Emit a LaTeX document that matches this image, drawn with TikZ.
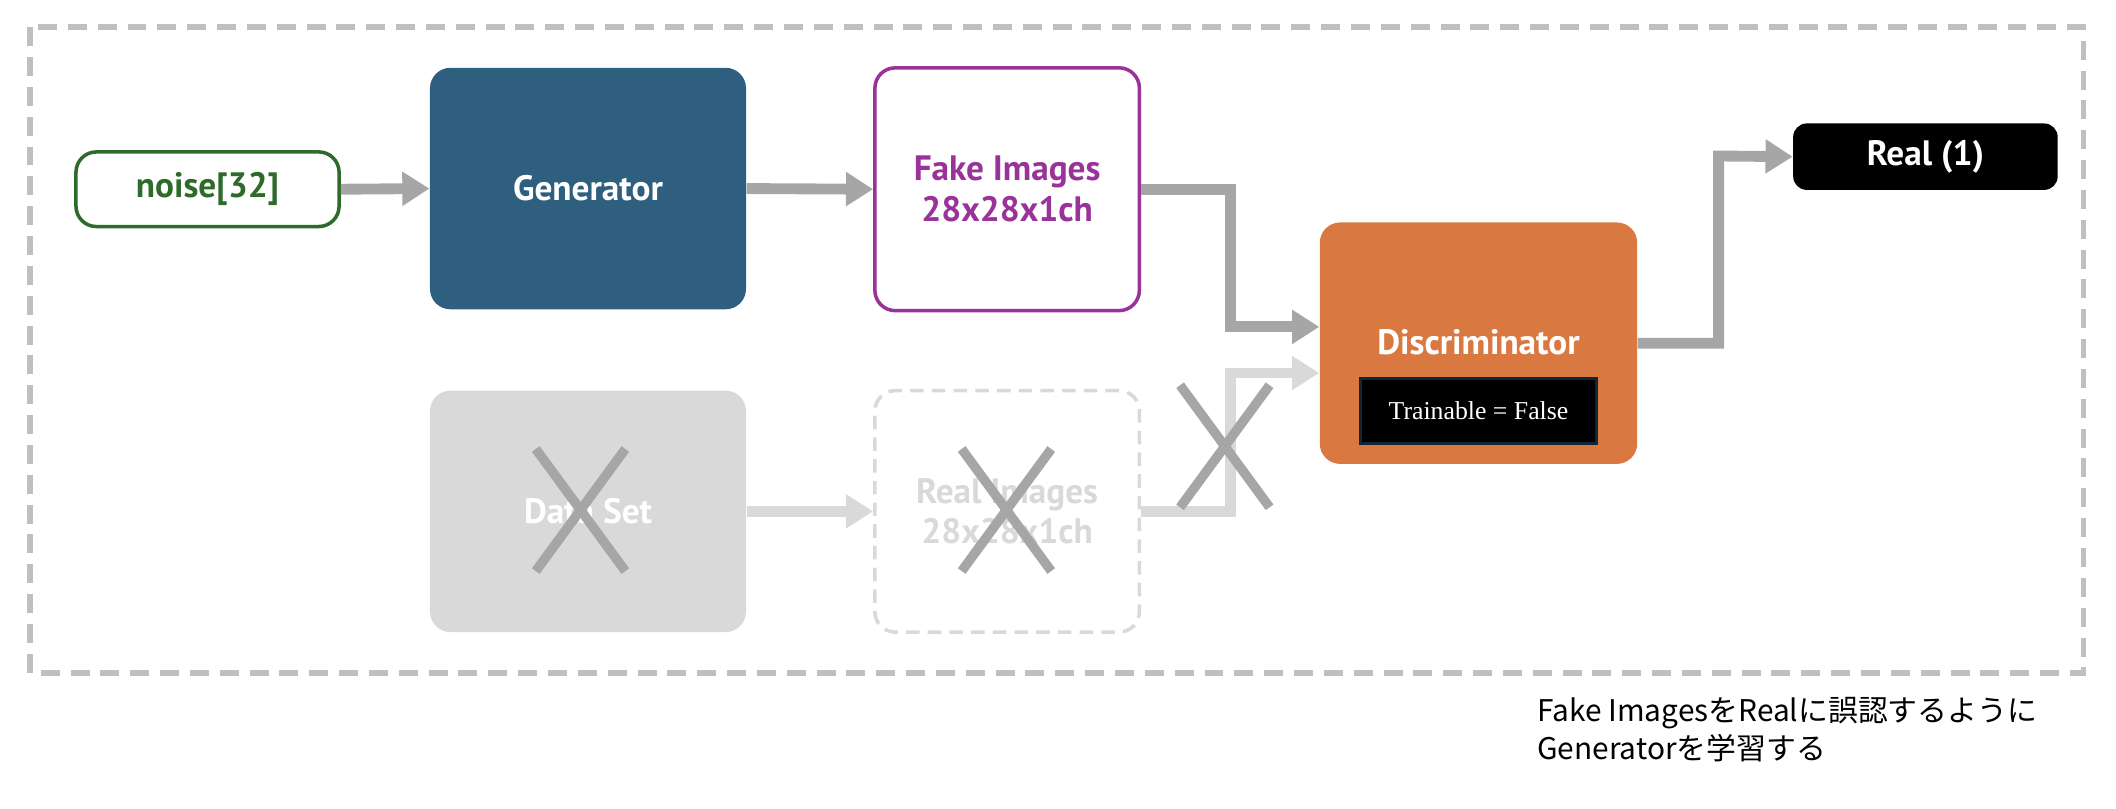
\documentclass[tikz,border=0pt]{standalone}
\usepackage{fontspec}
\setmainfont{PT Sans}
\newfontfamily\cjk{Noto Sans CJK JP}
\newfontfamily\serifx{Liberation Serif}
\usetikzlibrary{arrows.meta}
\definecolor{gen}{HTML}{2E5F7F}
\definecolor{fake}{HTML}{993399}
\definecolor{nz}{HTML}{2E6B2A}
\definecolor{disc}{HTML}{D97941}
\definecolor{arr}{HTML}{A6A6A6}
\definecolor{lg}{HTML}{D9D9D9}
\definecolor{bord}{HTML}{BFBFBF}
\begin{document}
\begin{tikzpicture}[x=0.5pt,y=-0.5pt,
  box/.style={rounded corners=7.5pt,align=center,font=\bfseries\fontsize{13}{15}\selectfont,inner sep=0pt},
  conn/.style={draw=arr,line width=4pt,line join=miter,-{Triangle[length=10pt,width=12pt]}},
  lconn/.style={conn,draw=lg},
  cross/.style={draw=arr,line width=3.5pt}]
\useasboundingbox (0,0) rectangle (1560,596);
\draw[bord,line width=2pt,dash pattern=on 7pt off 4pt] (22,20) rectangle (1536,496);
\node[box,draw=nz,line width=1.3pt,text=nz,minimum width=97pt,minimum height=27.5pt] (noise) at (153,139.5) {noise[32]};
\node[box,fill=gen,text=white,minimum width=116.5pt,minimum height=89pt] (gen) at (433.5,139) {Generator};
\node[box,draw=fake,line width=1.3pt,text=fake,minimum width=97.5pt,minimum height=89.5pt] (fake) at (742.5,139.5) {Fake Images\\28x28x1ch};
\node[box,fill=lg,text=white,minimum width=116.5pt,minimum height=89pt] (data) at (433.5,377) {Data Set};
\node[box,draw=lg,line width=1.3pt,dash pattern=on 5pt off 3pt,text=lg,minimum width=97.5pt,minimum height=89pt] (real) at (742.5,377) {Real Images\\28x28x1ch};
\node[box,fill=disc,minimum width=117pt,minimum height=89pt] (disc) at (1090,253) {};
\node[box,text=white] (dlabel) at (1090,252) {Discriminator};
\node[fill=black,draw=gen!40!black,line width=1pt,text=white,minimum width=87pt,minimum height=24pt,inner sep=0pt,font=\serifx\fontsize{9.5}{11}\selectfont] (train) at (1090,303) {Trainable = False};
\node[box,fill=black,text=white,rounded corners=5pt,minimum width=97.5pt,minimum height=24.5pt] (real1) at (1419.5,115.5) {Real (1)};
\coordinate (f1) at (907,241);
\coordinate (r1) at (907,275);
\coordinate (o1) at (1267,115);
\draw[conn] (noise.east) -- (gen.west);
\draw[conn] (gen.east) -- (fake.west);
\draw[conn] (fake.east) -| (f1) -- (f1 -| disc.west);
\draw[lconn] (data.east) -- (real.west);
\draw[lconn] (real.east) -| (r1) -- (r1 -| disc.west);
\draw[conn] (disc.east) -| (o1) -- (real1.west);
\coordinate (x1) at (428,376);
\coordinate (x2) at (742,376);
\coordinate (x3) at (903,329);
\foreach \c in {x1,x2,x3}{
  \draw[cross] ([shift={(-33,-45)}]\c) -- ([shift={(33,45)}]\c);
  \draw[cross] ([shift={(33,-45)}]\c) -- ([shift={(-33,45)}]\c);
}
\node[anchor=north west,align=left,inner sep=0pt,font=\cjk\fontsize{11}{14}\selectfont] (cap) at (1133,514) {Fake ImagesをRealに誤認するように\\Generatorを学習する};
\end{tikzpicture}
\end{document}
